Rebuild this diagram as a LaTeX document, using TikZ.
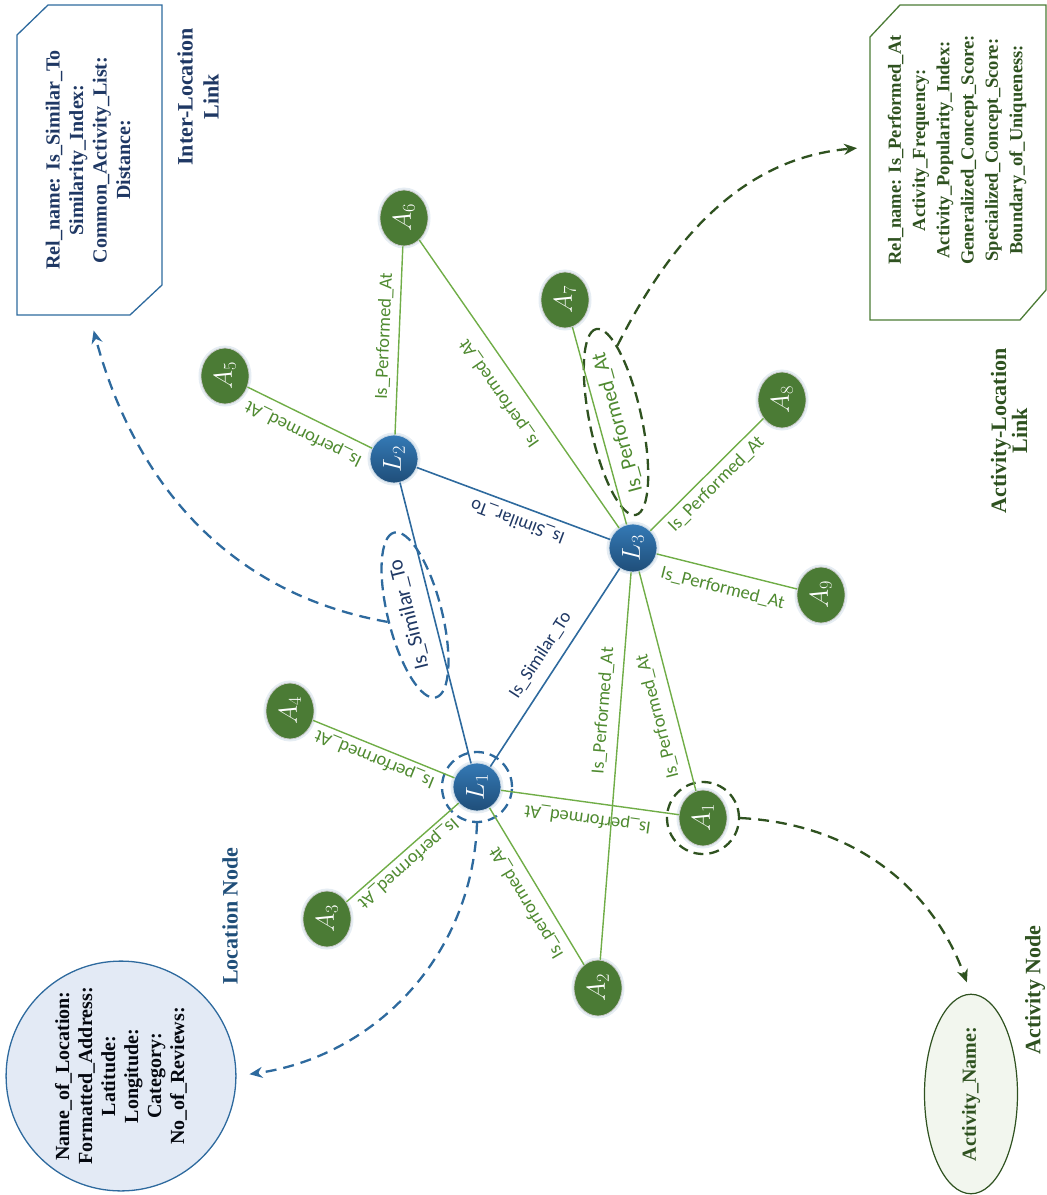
\documentclass[tikz,border=0pt]{standalone}
\usepackage{fix-cm}
\usepackage{fontspec}
\setmainfont{Liberation Serif}
\newfontfamily\lblfont{Carlito}
\usetikzlibrary{shapes.geometric,arrows.meta}

\definecolor{locblue}{HTML}{2E6A9E}
\definecolor{locdark}{HTML}{1F4E79}
\definecolor{loclight}{HTML}{3479B5}
\definecolor{simnavy}{HTML}{1F3864}
\definecolor{actfill}{HTML}{4B7B35}
\definecolor{actline}{HTML}{70AD47}
\definecolor{actlbl}{HTML}{4F8A30}
\definecolor{actdark}{HTML}{2F5220}
\definecolor{locbg}{HTML}{E3EAF5}
\definecolor{actbg}{HTML}{F2F6EE}

\begin{document}
\begin{tikzpicture}
[x=1pt, y=1pt, >={Stealth[length=13pt,width=11pt]},
lnode/.style={circle, minimum size=48pt, inner sep=0pt, rotate=90,
  top color=loclight, bottom color=locdark, draw=white!75!locblue, line width=0.8pt,
  preaction={draw=locblue!12, line width=5pt},
  text=white, font=\fontsize{26}{26}\selectfont},
anode/.style={ellipse, minimum width=56pt, minimum height=48pt, inner sep=0pt, rotate=90,
  fill=actfill, draw=white!80!black, line width=0.8pt,
  preaction={draw=locblue!12, line width=5pt},
  text=white, font=\fontsize{26}{26}\selectfont},
simlink/.style={draw=locblue, line width=1.6pt},
perflink/.style={draw=actline, line width=1.4pt},
slbl/.style={sloped, allow upside down, inner sep=2pt, text=simnavy,
  font=\lblfont\fontsize{18.5}{19}\selectfont},
plbl/.style={sloped, allow upside down, inner sep=2pt, text=actlbl,
  font=\lblfont\fontsize{18.5}{19}\selectfont},
biglbl/.style={font=\lblfont\fontsize{21}{22}\selectfont},
ring/.style={circle, draw, line width=2.3pt, dash pattern=on 10pt off 6pt, inner sep=0pt},
hlellipse/.style={ellipse, draw, line width=2.3pt, dash pattern=on 11pt off 6pt, inner sep=0pt},
callout/.style={->, line width=2.3pt, dash pattern=on 11pt off 7pt},
attrbox/.style={rectangle, inner sep=0pt, outer sep=0pt},
boxtext/.style={rotate=90, align=center, font=\bfseries\fontsize{20}{23.5}\selectfont},
headtext/.style={rotate=90, align=center, font=\bfseries\fontsize{22}{26}\selectfont}]

\useasboundingbox (0,0) rectangle (1047,-1195);

% attribute boxes
\node[attrbox, minimum width=145pt, minimum height=310pt] (simbox) at (89.5,-160) {};
\draw[locblue, line width=1.3pt, fill=white] ([yshift=-30pt]simbox.north west) -- ([xshift=31pt]simbox.north west) -- (simbox.north east) -- ([yshift=30pt]simbox.south east) -- ([xshift=-32pt]simbox.south east) -- (simbox.south west) -- cycle;
\node[boxtext, text=simnavy] (simtxt) at (88,-160) {Rel\_name: Is\_Similar\_To\\Similarity\_Index:\\Common\_Activity\_List:\\Distance:};

\node[attrbox, minimum width=176pt, minimum height=315pt] (perfbox) at (958,-162.5) {};
\draw[actfill, line width=1.3pt, fill=white] ([yshift=-32pt]perfbox.north west) -- ([xshift=30pt]perfbox.north west) -- (perfbox.north east) -- ([yshift=30pt]perfbox.south east) -- ([xshift=-26pt]perfbox.south east) -- (perfbox.south west) -- cycle;
\node[boxtext, text=actdark, font=\bfseries\fontsize{18.5}{24.3}\selectfont] (perftxt) at (957,-150) {Rel\_name: Is\_Performed\_At\\Activity\_Frequency:\\Activity\_Popularity\_Index:\\Generalized\_Concept\_Score:\\Specialized\_Concept\_Score:\\Boundary\_of\_Uniqueness:};

\node[boxtext, circle, minimum size=222pt, fill=locbg, draw=locblue, line width=1.3pt, font=\bfseries\fontsize{20}{23}\selectfont, text=black!85!simnavy] (locnode) at (121,-1076) {Name\_of\_Location:\\Formatted\_Address:\\Latitude:\\Longitude:\\Category:\\No\_of\_Reviews:};
\node[ellipse, rotate=90, minimum width=195pt, minimum height=93pt, fill=actbg, draw=actdark, line width=1.2pt, font=\bfseries\fontsize{20}{22}\selectfont, text=actdark] (actnode) at (971,-1094) {Activity\_Name:};

% headings
\node[headtext, text=simnavy] (intlbl) at (198,-97) {Inter-Location\\Link};
\node[headtext, text=locdark] (loclbl) at (230,-916) {Location Node};
\node[headtext, text=actdark] (actlbl) at (1035,-990) {Activity Node};
\node[headtext, text=actdark, font=\bfseries\fontsize{22}{21}\selectfont] (allbl) at (1009,-431) {Activity-Location\\Link};

% graph
\node[lnode] (L1) at (477,-787) {$L_1$};
\node[lnode] (L2) at (394,-459) {$L_2$};
\node[lnode] (L3) at (633,-548) {$L_3$};
\node[anode] (A1) at (703,-818) {$A_1$};
\node[anode] (A2) at (598,-988) {$A_2$};
\node[anode] (A3) at (327,-919) {$A_3$};
\node[anode] (A4) at (290,-711) {$A_4$};
\node[anode] (A5) at (225,-376) {$A_5$};
\node[anode] (A6) at (404,-218) {$A_6$};
\node[anode] (A7) at (565,-300) {$A_7$};
\node[anode] (A8) at (782,-400) {$A_8$};
\node[anode] (A9) at (821,-595) {$A_9$};

\node[ring, draw=locblue, minimum size=70pt] (L1ring) at (L1) {};
\node[ring, draw=actdark, minimum size=72pt] (A1ring) at (A1) {};
\node[hlellipse, draw=locblue, minimum width=170pt, minimum height=54pt, rotate=104.2] (simhl) at (415,-615) {};
\node[hlellipse, draw=actdark, minimum width=190pt, minimum height=52pt, rotate=102] (perfhl) at (616,-422) {};

\draw[simlink] (L1) -- node[slbl, biglbl, above=12pt, pos=.55] {Is\_Similar\_To} (L2);
\draw[simlink] (L3) -- node[slbl, above=5pt, pos=.45] {Is\_Similar\_To} (L2);
\draw[simlink] (L1) -- node[slbl, above=8.5pt, pos=.51] {Is\_Similar\_To} (L3);

\draw[perflink] (L1) -- node[plbl, above=2pt, pos=.53] {Is\_performed\_At} (A4);
\draw[perflink] (L1) -- node[plbl, above=1pt, pos=.52] {Is\_performed\_At} (A3);
\draw[perflink] (A1) -- node[plbl, above=6pt, pos=.50] {Is\_performed\_At} (L1);
\draw[perflink] (A2) -- node[plbl, above=6.5pt, pos=.45] {Is\_performed\_At} (L1);
\draw[perflink] (L2) -- node[plbl, above=6.5pt, pos=.49] {Is\_performed\_At} (A5);
\draw[perflink] (L2) -- node[plbl, above=4.5pt, pos=.52] {Is\_Performed\_At} (A6);
\draw[perflink] (L3) -- node[plbl, above=11pt, pos=.51] {Is\_performed\_At} (A6);
\draw[perflink] (L3) -- node[plbl, biglbl, below=7pt, pos=.49] {Is\_Performed\_At} (A7);
\draw[perflink] (L3) -- node[plbl, below=3pt, pos=.50] {Is\_Performed\_At} (A8);
\draw[perflink] (L3) -- node[plbl, below=7pt, pos=.50] {Is\_Performed\_At} (A9);
\draw[perflink] (A1) -- node[plbl, above=8pt, pos=.36] {Is\_Performed\_At} (L3);
\draw[perflink] (A2) -- node[plbl, above=6.5pt, pos=.64] {Is\_Performed\_At} (L3);

% callouts
\draw[callout, locblue, shorten >=16pt] (simhl.north) to[out=170, in=-75] (simbox.south);
\draw[callout, actdark, shorten >=13pt] (perfhl.-13) to[out=63, in=185] (perfbox.170);
\draw[callout, locblue, shorten >=13pt] (L1ring.south) to[out=-92, in=8] (locnode.south);
\draw[callout, actdark, shorten >=12pt] (A1ring.east) to[out=-3, in=110] (actnode.east);

\end{tikzpicture}
\end{document}
